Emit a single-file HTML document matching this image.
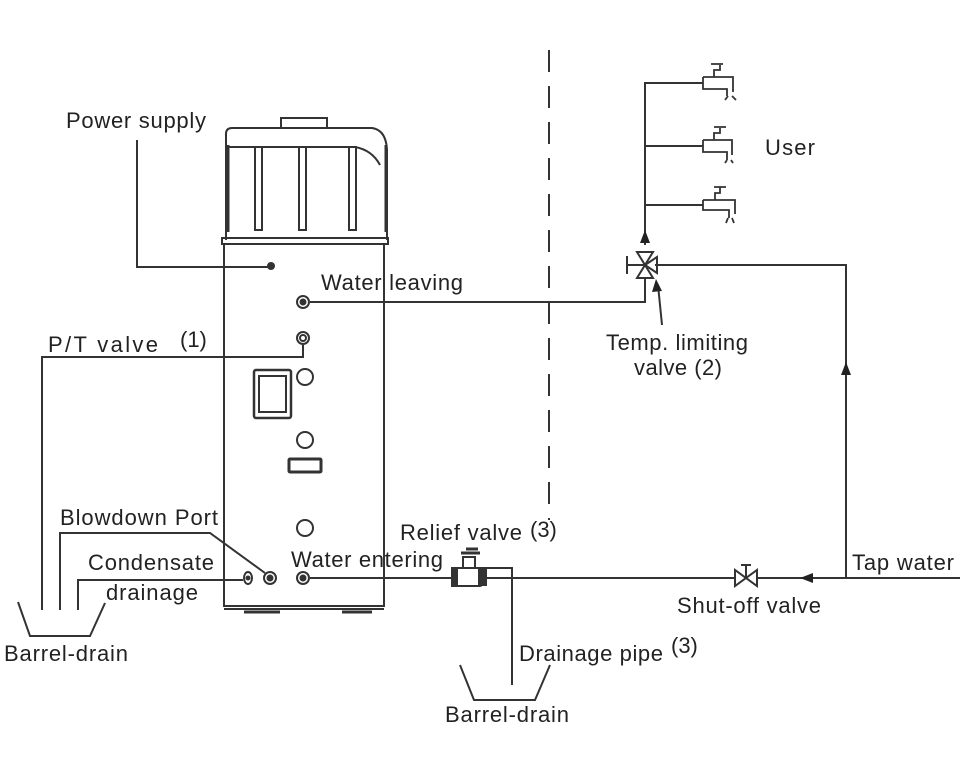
<!DOCTYPE html>
<html><head><meta charset="utf-8"><style>body{margin:0;background:#fff}svg{display:block}text{font-family:"Liberation Sans",Arial,sans-serif;font-size:22px;fill:#222}</style></head><body>
<svg width="960" height="767" viewBox="0 0 960 767" xmlns="http://www.w3.org/2000/svg">
<g fill="none" stroke="#333" stroke-width="2">
<rect x="281" y="118" width="46" height="10"/>
<path d="M226 240 V134 Q226 128 232 128 H372 Q386 130 387 150 V240"/>
<path d="M228 145 V232 M386 145 V232" stroke-width="3"/>
<rect x="255" y="147" width="7" height="83"/>
<rect x="299" y="147" width="7" height="83"/>
<rect x="349" y="147" width="7" height="83"/>
<path d="M228 147 H355 Q372 150 380 165"/>
<rect x="222" y="238" width="166" height="6"/>
<path d="M224 244 V606 H384 V244"/>
<path d="M224 609 H384"/>
<path d="M244 612 H280 M342 612 H372" stroke-width="3"/>
<circle cx="271" cy="266" r="3" fill="#333"/>
<circle cx="303" cy="302" r="6"/><circle cx="303" cy="302" r="2.5" fill="#333"/>
<circle cx="303" cy="338" r="6"/><circle cx="303" cy="338" r="3"/>
<rect x="254" y="370" width="37" height="48" rx="2" stroke-width="2.5"/>
<rect x="259" y="376" width="27" height="36"/>
<circle cx="305" cy="377" r="8"/>
<circle cx="305" cy="440" r="8"/>
<rect x="289" y="459" width="32" height="13" rx="1" stroke-width="3"/>
<circle cx="305" cy="528" r="8"/>
<ellipse cx="248" cy="578" rx="4" ry="6"/><circle cx="248" cy="578" r="1.5" fill="#333"/>
<circle cx="270" cy="578" r="6"/><circle cx="270" cy="578" r="2.5" fill="#333"/>
<circle cx="303" cy="578" r="6"/><circle cx="303" cy="578" r="2.5" fill="#333"/>
<path d="M137 140 V267 H268"/>
<path d="M303 345 V357 H42 V610"/>
<path d="M60 610 V533 H210 L265 573"/>
<path d="M78 610 V580 H243"/>
<path d="M18 602 L30 636 H90 L105 603"/>
<path d="M310 302 H645 V278"/>
<path d="M645 245 V83 H703 M645 146 H703 M645 205 H703"/>
<path d="M655 265 H846 V578"/>
<path d="M310 578 H453 M486 578 H735 M757 578 H960"/>
<path d="M478 568 H512 V685"/>
<path d="M460 665 L474 700 H535 L550 665"/>
<path d="M549 50 V520" stroke-dasharray="22 14"/>
<path d="M637 252 H653 L637 278 H653 Z" stroke-width="2"/>
<path d="M645 265 L657 257 V273 Z"/>
<path d="M627 256 V274 M627 265 H645"/>
<path d="M662 325 L658 285"/>
<path d="M735 570 V586 L757 570 V586 Z"/>
<path d="M746 578 V565 M741 565 H751"/>
<g stroke-width="1.8">
<path d="M703 77 H733 V92 M703 77 V89 H727 V96 M714 77 V70 H720 V65 M711 64 H723 M728 96 L725 100 M732 96 L736 100"/>
<path d="M703 140 H732 V155 M703 140 V152 H727 V160 M714 140 V133 H720 V128 M714 127 H726 M727 160 L725 163 M731 160 L733 163"/>
<path d="M703 200 H735 V214 M703 200 V210 H729 V218 M715 200 V193 H720 V187 M714 187 H726 M728 218 L726 223 M732 218 L734 223"/>
</g>
<rect x="456" y="568" width="26" height="18" rx="2"/>
<rect x="463" y="557" width="12" height="11"/>
<path d="M461 553 H480 M466 549 H478" stroke-width="3"/>
<rect x="452" y="568" width="5" height="18" fill="#333"/>
<rect x="479" y="570" width="7" height="15" fill="#333"/>
</g>
<g fill="#222">
<path d="M645 230 L640 243 H650 Z"/>
<path d="M846 362 L841 375 H851 Z"/>
<path d="M800 578 L813 573 V583 Z"/>
<path d="M656 279 L652 292 L662 291 Z"/>
</g>
<text x="66" y="128" textLength="140">Power supply</text>
<text x="321" y="290" textLength="142">Water leaving</text>
<text x="48" y="352" textLength="110">P/T valve</text>
<text x="180" y="347">(1)</text>
<text x="606" y="350" textLength="142">Temp. limiting</text>
<text x="634" y="375" textLength="88">valve (2)</text>
<text x="765" y="155" textLength="50">User</text>
<text x="60" y="525" textLength="158">Blowdown Port</text>
<text x="88" y="570" textLength="126">Condensate</text>
<text x="106" y="600" textLength="92">drainage</text>
<text x="4" y="661" textLength="124">Barrel-drain</text>
<text x="291" y="567" textLength="152">Water entering</text>
<text x="400" y="540" textLength="122">Relief valve</text>
<text x="530" y="537">(3)</text>
<text x="852" y="570" textLength="102">Tap water</text>
<text x="677" y="613" textLength="144">Shut-off valve</text>
<text x="519" y="661" textLength="144">Drainage pipe</text>
<text x="671" y="653">(3)</text>
<text x="445" y="722" textLength="124">Barrel-drain</text>
</svg>
</body></html>
